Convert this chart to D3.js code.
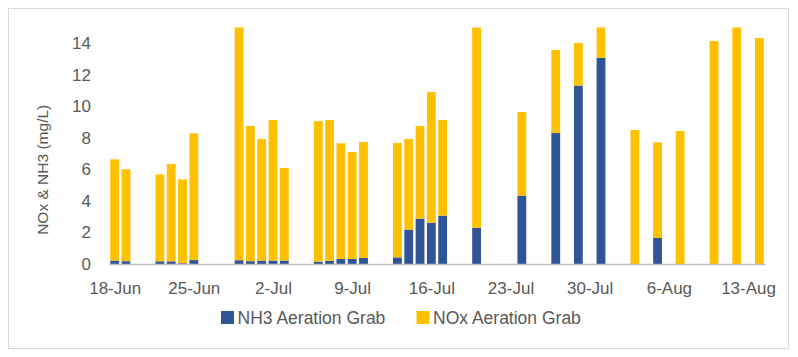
<!DOCTYPE html>
<html>
<head>
<meta charset="utf-8">
<script src="https://cdn.jsdelivr.net/npm/d3@7"></script>
<style>
  html, body { margin: 0; padding: 0; background: #fff; }
  svg { display: block; }
  text { font-family: "Liberation Sans", Arial, sans-serif; fill: #595959; }
</style>
</head>
<body>
<script>
// ---- data ----
const dates = ["18-Jun","19-Jun","22-Jun","23-Jun","24-Jun","25-Jun","29-Jun","30-Jun","1-Jul","2-Jul","3-Jul",
  "6-Jul","7-Jul","8-Jul","9-Jul","10-Jul","13-Jul","14-Jul","15-Jul","16-Jul","17-Jul","20-Jul","24-Jul",
  "27-Jul","29-Jul","31-Jul","3-Aug","5-Aug","7-Aug","10-Aug","12-Aug","14-Aug"];
const nh3 = [0.22,0.18,0.17,0.17,0.05,0.25,0.24,0.18,0.22,0.22,0.22,
  0.15,0.20,0.32,0.32,0.38,0.42,2.18,2.88,2.62,3.07,2.30,4.34,
  8.31,11.32,13.09,0,1.65,0,0,0,0];
const nox = [6.42,5.83,5.52,6.18,5.32,8.04,15.8,8.58,7.71,8.92,5.87,
  8.92,8.94,7.34,6.78,7.36,7.26,5.75,5.88,8.29,6.07,14.7,5.30,
  5.27,2.70,2.60,8.50,6.07,8.44,14.15,15.6,14.34];
const yTicks = [0,2,4,6,8,10,12,14];
const xTickLabels = ["18-Jun","25-Jun","2-Jul","9-Jul","16-Jul","23-Jul","30-Jul","6-Aug","13-Aug"];
const seriesNames = ["NH3 Aeration Grab","NOx Aeration Grab"];
const colors = ["#2F5597","#FFC000"];

// ---- layout ----
const W = 798, H = 357;
const parse = d3.timeParse("%d-%b-%Y");
const toDate = s => parse(s + "-2019");
const rows = dates.map((d,i) => ({date: toDate(d), nh3: nh3[i], nox: nox[i]}));

const x0 = d3.timeHour.offset(toDate("18-Jun"), -12);
const x1 = d3.timeHour.offset(toDate("14-Aug"), 12);
const x = d3.scaleTime().domain([x0, x1]).range([109, 765]);
const y = d3.scaleLinear().domain([0, 15]).range([264, 27.6]);
const dayW = x(toDate("19-Jun")) - x(toDate("18-Jun"));
const barW = dayW * 0.78;

const svg = d3.select("body").append("svg").attr("width", W).attr("height", H);
svg.append("rect").attr("x", 8.5).attr("y", 8.5).attr("width", 780).attr("height", 340)
  .attr("fill", "#fff").attr("stroke", "#d9d9d9").attr("stroke-width", 1);

svg.append("defs").append("clipPath").attr("id", "plotclip")
  .append("rect").attr("x", 100).attr("y", y(15)).attr("width", 680).attr("height", y(0) - y(15));

const stack = d3.stack().keys(["nh3","nox"])(rows);
const g = svg.append("g").attr("clip-path", "url(#plotclip)");
g.selectAll("g.series").data(stack).join("g").attr("class","series")
  .attr("fill", (d,i) => colors[i])
  .selectAll("rect").data(d => d).join("rect")
  .attr("x", d => x(d.data.date) - barW/2)
  .attr("width", barW)
  .attr("y", d => y(d[1]))
  .attr("height", d => Math.max(0, y(d[0]) - y(d[1])));

// x axis
const xAxis = d3.axisBottom(x)
  .tickValues(xTickLabels.map(toDate))
  .tickFormat(d3.timeFormat("%-d-%b"))
  .tickSize(0).tickPadding(18);
const gx = svg.append("g").attr("transform", `translate(0,${y(0)})`).call(xAxis);
gx.select(".domain").attr("stroke", "#bfbfbf").attr("stroke-width", 1.5);
gx.selectAll("text").attr("font-size", 17).style("fill", "#595959");

// y axis
const yAxis = d3.axisLeft(y).tickValues(yTicks).tickSize(0).tickPadding(0);
const gy = svg.append("g").attr("transform", "translate(91,0)").call(yAxis);
gy.select(".domain").remove();
gy.selectAll("text").attr("font-size", 17).style("fill", "#595959");

// y title
svg.append("text").attr("transform", `translate(48,${(y(0)+y(15))/2 + 24}) rotate(-90)`)
  .attr("text-anchor", "middle").attr("font-size", 15.5).text("NOx & NH3 (mg/L)");

// legend
const legendX = [221, 416.5];
const lg = svg.append("g");
seriesNames.forEach((n,i) => {
  lg.append("rect").attr("x", legendX[i]).attr("y", 311).attr("width", 13).attr("height", 13).attr("fill", colors[i]);
  lg.append("text").attr("x", legendX[i] + 16.5).attr("y", 317.5).attr("dy", "0.35em")
    .attr("font-size", 17.5).text(n);
});
</script>
</body>
</html>
